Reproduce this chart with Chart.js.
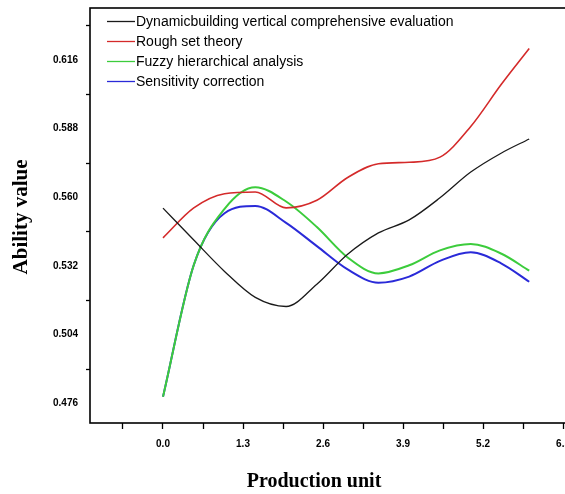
<!DOCTYPE html>
<html>
<head>
<meta charset="utf-8">
<script src="https://cdn.jsdelivr.net/npm/chart.js@4.4.1/dist/chart.umd.min.js"></script>
<style>
  html, body { margin: 0; padding: 0; background: #fff; overflow: hidden; }
  #wrap { width: 620px; height: 494px; position: relative; }
</style>
</head>
<body>
<div id="wrap"><canvas id="c" width="620" height="494"></canvas></div>
<script>
// ---- data ----
const xValues = [0, 0.5, 1.0, 1.5, 2.0, 2.5, 3.0, 3.5, 4.0, 4.5, 5.0, 5.5, 5.95];
const seriesNames = [
  "Dynamicbuilding vertical comprehensive evaluation",
  "Rough set theory",
  "Fuzzy hierarchical analysis",
  "Sensitivity correction"
];
const dynamicBuilding = [0.5556, 0.5426, 0.5298, 0.5192, 0.5155, 0.5246, 0.5368, 0.5455, 0.5508, 0.5598, 0.5703, 0.5781, 0.5838];
const roughSet        = [0.5435, 0.5557, 0.5615, 0.5622, 0.5557, 0.5588, 0.5681, 0.5737, 0.5743, 0.5764, 0.5889, 0.6062, 0.6207];
const fuzzyHier       = [0.4787, 0.5324, 0.5553, 0.5641, 0.5583, 0.5479, 0.5355, 0.5290, 0.5323, 0.5384, 0.5410, 0.5370, 0.5301];
const sensitivity     = [0.4787, 0.5324, 0.5535, 0.5565, 0.5496, 0.5401, 0.5306, 0.5252, 0.5277, 0.5341, 0.5376, 0.5330, 0.5256];
const yTickValues = [0.476, 0.504, 0.532, 0.560, 0.588, 0.616];
const yTickLabels = ["0.476", "0.504", "0.532", "0.560", "0.588", "0.616"];
const xMajorLabels = ["0.0", "1.3", "2.6", "3.9", "5.2", "6.5"];
const xTickStep = 0.65;
const xTitle = "Production unit";
const yTitle = "Ability value";
const colors = ["#1a1a1a", "#d42a2a", "#3ccc3c", "#2a2ad8"];
const widths = [1.3, 1.6, 2, 2];

const seriesValues = [dynamicBuilding, roughSet, fuzzyHier, sensitivity];
const datasets = seriesValues.map((vals, i) => ({
  label: seriesNames[i],
  data: vals.map((v, k) => ({ x: xValues[k], y: v })),
  borderColor: colors[i],
  backgroundColor: colors[i],
  borderWidth: widths[i],
  pointRadius: 0,
  fill: false,
  cubicInterpolationMode: 'monotone'
}));

const framePlugin = {
  id: 'frame',
  afterDraw(chart) {
    const { ctx, chartArea: a } = chart;
    ctx.save();
    ctx.strokeStyle = '#000';
    ctx.lineWidth = 1.6;
    ctx.strokeRect(a.left, a.top, a.right - a.left, a.bottom - a.top);

    // legend inside plot, top-left
    ctx.font = '14px "Liberation Sans", Arial, sans-serif';
    ctx.textBaseline = 'middle';
    ctx.textAlign = 'left';
    chart.data.datasets.forEach((ds, i) => {
      const y = a.top + 13.5 + i * 20;
      const x0 = a.left + 17;
      ctx.strokeStyle = ds.borderColor;
      ctx.lineWidth = 1.3;
      ctx.beginPath();
      ctx.moveTo(x0, y);
      ctx.lineTo(x0 + 28, y);
      ctx.stroke();
      ctx.fillStyle = '#000';
      ctx.fillText(ds.label, x0 + 29, y + 0.5);
    });

    // axis titles
    ctx.fillStyle = '#000';
    ctx.textAlign = 'center';
    ctx.textBaseline = 'middle';
    ctx.font = 'bold 20px "Liberation Serif", "Times New Roman", serif';
    ctx.fillText(xTitle, 314, 482);
    ctx.save();
    ctx.translate(22, 217);
    ctx.rotate(-Math.PI / 2);
    ctx.font = 'bold 21px "Liberation Serif", "Times New Roman", serif';
    ctx.fillText(yTitle, 0, 0);
    ctx.restore();
    ctx.restore();
  }
};

new Chart(document.getElementById('c'), {
  type: 'line',
  data: { datasets },
  options: {
    responsive: false,
    animation: false,
    layout: { padding: { left: 0, top: 8, right: 20, bottom: 0 } },
    plugins: { legend: { display: false }, tooltip: { enabled: false } },
    scales: {
      x: {
        type: 'linear',
        min: -1.186,
        max: 7.1,
        afterBuildTicks(scale) {
          const t = [];
          for (let k = -1; k <= 10; k++) {
            const v = +(k * xTickStep).toFixed(2);
            if (v >= scale.min && v <= scale.max) t.push({ value: v });
          }
          scale.ticks = t;
        },
        afterFit(scale) { scale.height = 71; scale.paddingLeft = 0; scale.paddingRight = 0; },
        border: { display: false },
        grid: { drawOnChartArea: false, drawTicks: true, tickLength: 6, tickColor: '#000', tickWidth: 1.3 },
        ticks: {
          padding: 9,
          color: '#000',
          autoSkip: false,
          maxRotation: 0,
          font: { family: '"Liberation Sans", Arial, sans-serif', size: 10, weight: 'bold' },
          callback(value) {
            const idx = Math.round(value / 1.3);
            if (Math.abs(value - idx * 1.3) < 1e-6 && idx >= 0 && idx < xMajorLabels.length) return xMajorLabels[idx];
            return '';
          }
        }
      },
      y: {
        type: 'linear',
        min: 0.4680,
        max: 0.6372,
        afterBuildTicks(scale) {
          scale.ticks = yTickValues.map(v => ({ value: v }));
        },
        afterFit(scale) { scale.width = 90; scale.paddingTop = 0; scale.paddingBottom = 0; },
        border: { display: false },
        grid: { drawOnChartArea: false, drawTicks: true, tickLength: 4, offset: true, tickColor: '#000', tickWidth: 1.3 },
        ticks: {
          padding: 8,
          color: '#000',
          autoSkip: false,
          font: { family: '"Liberation Sans", Arial, sans-serif', size: 10, weight: 'bold' },
          callback(value, index) { return yTickLabels[index]; }
        }
      }
    }
  },
  plugins: [framePlugin]
});
</script>
</body>
</html>
